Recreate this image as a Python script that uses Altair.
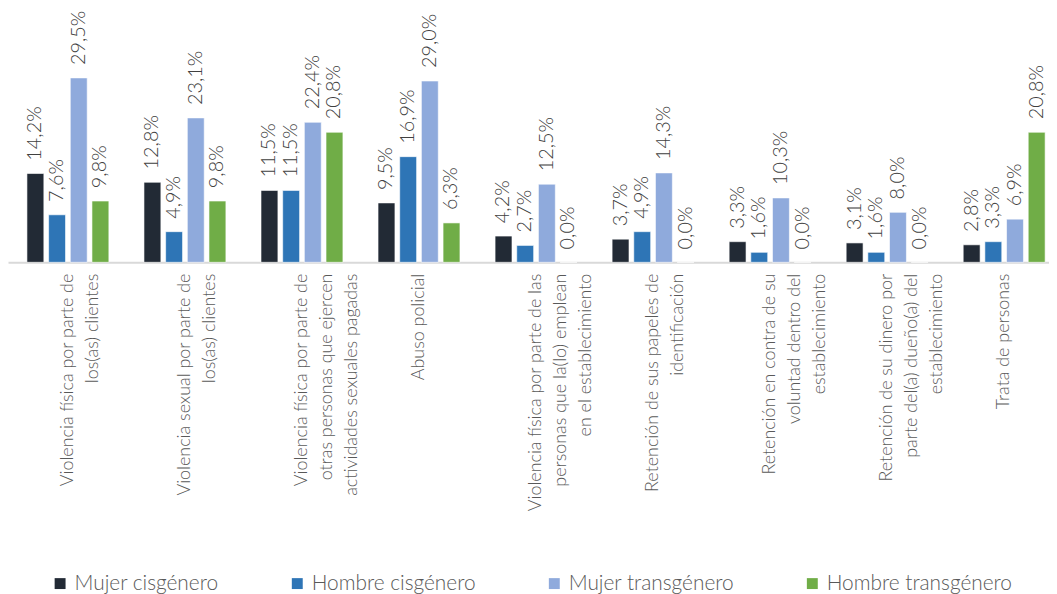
import altair as alt
import pandas as pd

categories = [
    "Violencia física por parte de|los(as) clientes",
    "Violencia sexual por parte de|los(as) clientes",
    "Violencia física por parte de|otras personas que ejercen|actividades sexuales pagadas",
    "Abuso policial",
    "Violencia física por parte de las|personas que la(lo) emplean|en el establecimiento",
    "Retención de sus papeles de|identificación",
    "Retención en contra de su|voluntad  dentro del|establecimiento",
    "Retención de su dinero por|parte del(a) dueño(a) del|establecimiento",
    "Trata de personas",
]
series = ["Mujer cisgénero", "Hombre cisgénero", "Mujer transgénero", "Hombre transgénero"]
colors = ["#222A35", "#2E75B6", "#8FAADC", "#70AD47"]

mujer_cis = [14.2, 12.8, 11.5, 9.5, 4.2, 3.7, 3.3, 3.1, 2.8]
hombre_cis = [7.6, 4.9, 11.5, 16.9, 2.7, 4.9, 1.6, 1.6, 3.3]
mujer_trans = [29.5, 23.1, 22.4, 29.0, 12.5, 14.3, 10.3, 8.0, 6.9]
hombre_trans = [9.8, 9.8, 20.8, 6.3, 0.0, 0.0, 0.0, 0.0, 20.8]

values = [mujer_cis, hombre_cis, mujer_trans, hombre_trans]
rows = []
for s, vals in zip(series, values):
    for c, v in zip(categories, vals):
        rows.append({"cat": c, "serie": s, "val": v,
                     "lbl": f"{v:.1f}".replace(".", ",") + "%"})
df = pd.DataFrame(rows)

FONT = "Lato"

x = alt.X("cat:N", sort=categories, title=None,
          scale=alt.Scale(paddingInner=0.30, paddingOuter=0.0975, align=0.83),
          axis=alt.Axis(labelAngle=-90, labelExpr="split(datum.label, '|')",
                        labelFont=FONT, labelFontSize=18, labelFontWeight=300,
                        labelLineHeight=25,
                        labelColor="#595959", labelPadding=11, ticks=False,
                        domainColor="#D9D9D9", domainWidth=2, labelLimit=400))
xo = alt.XOffset("serie:N", sort=series,
                 scale=alt.Scale(paddingInner=0.22, paddingOuter=0))
y = alt.Y("val:Q", scale=alt.Scale(domain=[0, 40.16]), axis=None)

bars = alt.Chart(df).mark_bar(stroke="#ffffff", strokeWidth=0.6).encode(
    x=x, xOffset=xo, y=y,
    color=alt.Color("serie:N", sort=series,
                    scale=alt.Scale(domain=series, range=colors),
                    legend=alt.Legend(title=None, orient="none", direction="horizontal",
                                      legendX=42, legendY=566,
                                      symbolType="square", symbolSize=121,
                                      symbolStrokeWidth=0,
                                      labelFont=FONT, labelFontSize=21,
                                      labelFontWeight=300, labelLimit=400,
                                      labelColor="#595959", columnPadding=68,
                                      labelOffset=4)),
)

labels = alt.Chart(df).mark_text(angle=270, align="left", baseline="middle",
                                 dx=13, font=FONT, fontSize=20, fontWeight=300,
                                 color="#404040").encode(
    x=x, xOffset=xo, y=y, text="lbl:N"
)

chart = alt.layer(bars, labels).properties(
    width=1049, height=253, padding=0
).configure_view(stroke=None)

chart.save("out.html", embed_options={"renderer": "svg", "actions": False})
